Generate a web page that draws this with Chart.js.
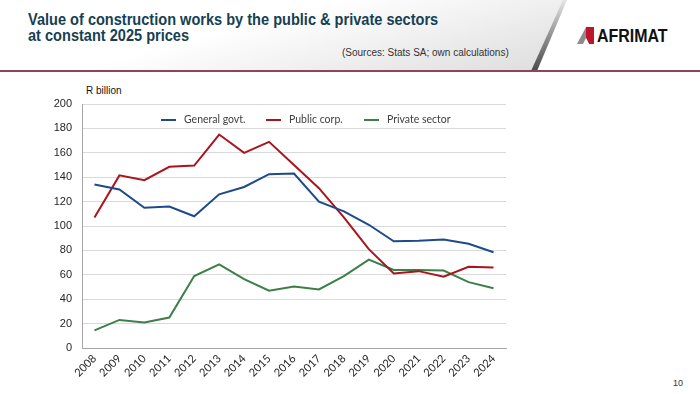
<!DOCTYPE html>
<html>
<head>
<meta charset="utf-8">
<script src="https://cdn.jsdelivr.net/npm/chart.js@4.4.1/dist/chart.umd.min.js"></script>
<style>
    body { margin: 0; width: 700px; height: 394px; position: relative; overflow: hidden; background: #fff; font-family: "Liberation Sans", Arial, sans-serif; }
    .hdr-bg { position: absolute; left: 0; top: 0; width: 700px; height: 71px;
        background: linear-gradient(165deg, #ffffff 35%, #d3d3d3 100%);
        clip-path: polygon(0 0, 565px 0, 534px 71px, 0 71px); }
    .slash { position: absolute; left: 0; top: 0; width: 700px; height: 71px;
        background: linear-gradient(to bottom, #e6e6e6 0%, #9a9a9a 45%, #4a4a4a 100%);
        clip-path: polygon(563px 0, 567px 0, 537px 71px, 531px 71px); }
    .rule { position: absolute; left: 0; top: 70px; width: 700px; height: 2px; background: #8f4459; }
    .title { position: absolute; left: 28px; top: 12px; font: bold 16px "Liberation Sans", Arial, sans-serif; color: #173f53; line-height: 16px;
        transform: scaleX(0.91); transform-origin: left top; white-space: nowrap; }
    .src { position: absolute; left: 342px; top: 47px; font-size: 10px; color: #333; }
    .logo { position: absolute; left: 577px; top: 26px; height: 18px; }
    .logo-txt { position: absolute; left: 597px; top: 25px; font: bold 19px "Liberation Sans", Arial, sans-serif; color: #111;
        transform: scaleX(0.84); transform-origin: left top; }
    .unit { position: absolute; left: 86px; top: 85px; font-size: 10px; color: #111; }
    .page { position: absolute; left: 673px; top: 378px; font-size: 9px; color: #333; }
    #wrap { position: absolute; left: 0; top: 80px; width: 700px; height: 314px; }
</style>
</head>
<body>
<div class="hdr-bg"></div>
<div class="slash"></div>
<div class="rule"></div>
<div class="title">Value of construction works by the public &amp; private sectors<br>at constant 2025 prices</div>
<div class="src">(Sources: Stats SA; own calculations)</div>
<svg class="logo" width="18" height="18" viewBox="0 0 18 18">
    <polygon points="0,18 9,1 9,18" fill="#8c8c8c"/>
    <polygon points="9,1 17,1 17,18 12,18 9,12" fill="#c0142a"/>
    <polygon points="9,12 12,18 6,18" fill="#fff"/>
</svg>
<div class="logo-txt">AFRIMAT</div>
<div class="unit">R billion</div>
<div class="page">10</div>
<div id="wrap"><canvas id="chart"></canvas></div>

<script>
const years = ['2008', '2009', '2010', '2011', '2012', '2013', '2014', '2015', '2016',
    '2017', '2018', '2019', '2020', '2021', '2022', '2023', '2024'];
const generalGovt = [134, 130, 115, 116, 108, 126, 132, 142.5, 143, 120, 112, 101, 87.5, 88, 89, 85.5, 78.5];
const publicCorp = [107, 141.5, 137.5, 148.5, 149.5, 175, 160, 169, 150, 131, 107, 81, 61, 63, 58.5, 66.5, 66];
const privateSector = [14.5, 23, 21, 25, 59, 68.5, 56.5, 47, 50.5, 48, 59, 72.5, 64, 64, 63.5, 54, 49];
const seriesNames = ['General govt.', 'Public corp.', 'Private sector'];
const seriesColors = ['#1d4a8a', '#a8151c', '#3c7f47'];

// legend drawn inside the plot, like the original
const innerLegend = {
    id: 'innerLegend',
    afterDraw(chart) {
        const ctx = chart.ctx;
        const xs = [161, 266, 364];
        const y = 40;
        ctx.save();
        ctx.font = '10.5px Lato, "Liberation Sans", sans-serif';
        ctx.textBaseline = 'middle';
        chart.data.datasets.forEach((ds, i) => {
            ctx.strokeStyle = ds.borderColor;
            ctx.lineWidth = 2;
            ctx.beginPath();
            ctx.moveTo(xs[i], y);
            ctx.lineTo(xs[i] + 15, y);
            ctx.stroke();
            ctx.fillStyle = '#404040';
            ctx.fillText(ds.label, xs[i] + 23, y);
        });
        ctx.restore();
    }
};

const datasets = [generalGovt, publicCorp, privateSector].map((vals, i) => ({
    label: seriesNames[i],
    data: vals,
    borderColor: seriesColors[i],
    backgroundColor: seriesColors[i],
    borderWidth: 2,
    pointRadius: 0,
    tension: 0
}));

new Chart(document.getElementById('chart'), {
    type: 'line',
    data: { labels: years, datasets: datasets },
    plugins: [innerLegend],
    options: {
        responsive: true,
        maintainAspectRatio: false,
        animation: false,
        layout: { padding: { left: 0, right: 194, top: 24, bottom: 0 } },
        plugins: { legend: { display: false }, tooltip: { enabled: false } },
        scales: {
            x: {
                offset: true,
                grid: { display: false, drawTicks: false },
                border: { display: true, color: '#a6a6a6', width: 1 },
                ticks: {
                    color: '#262626',
                    font: { family: 'Lato, "Liberation Sans", sans-serif', size: 11 },
                    minRotation: 45, maxRotation: 45, padding: 4, autoSkip: false
                },
                afterFit: (s) => { s.height = 46; }
            },
            y: {
                min: 0, max: 200,
                grid: { color: '#d9d9d9', lineWidth: 1, drawTicks: false },
                border: { display: true, color: '#a6a6a6', width: 1 },
                ticks: {
                    stepSize: 20, padding: 10, color: '#262626',
                    font: { family: '"Liberation Sans", Arial, sans-serif', size: 11 }
                },
                afterFit: (s) => { s.width = 82; }
            }
        }
    }
});
</script>
</body>
</html>
